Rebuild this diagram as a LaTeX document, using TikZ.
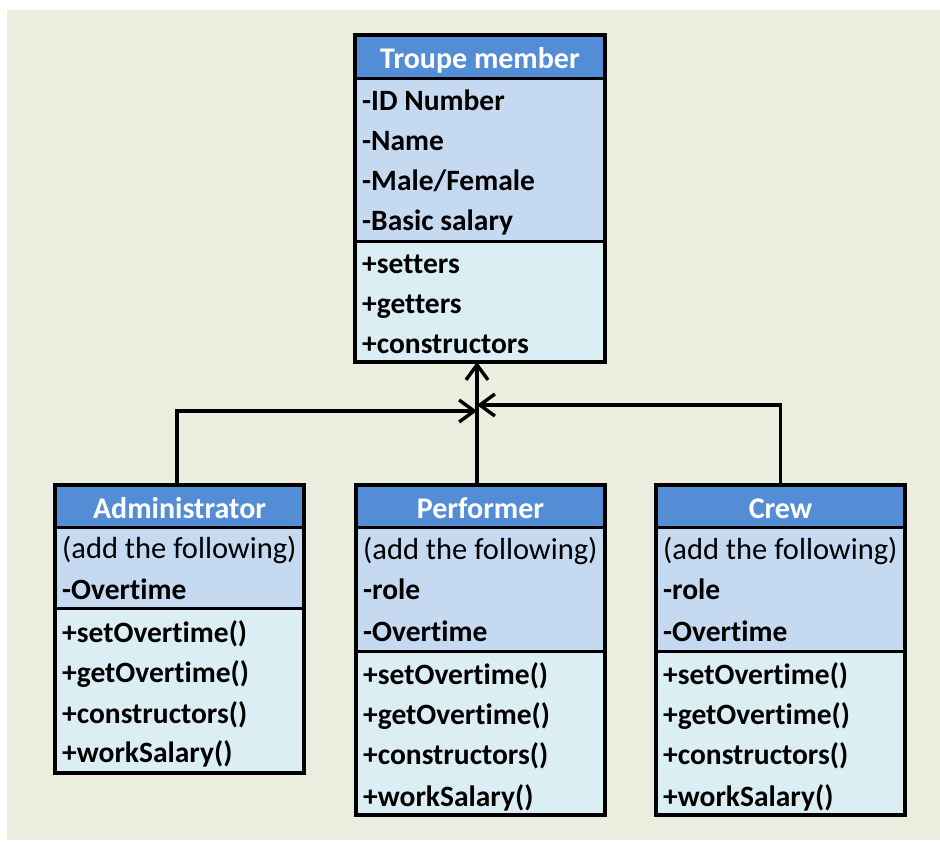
\documentclass[tikz,border=0pt]{standalone}
\usepackage{fontspec}
\setmainfont{Carlito}[Ligatures=NoCommon]
\usetikzlibrary{arrows.meta}
\definecolor{bgc}{RGB}{235,238,223}
\definecolor{hdrblue}{RGB}{83,141,213}
\definecolor{attrblue}{RGB}{197,217,241}
\definecolor{methblue}{RGB}{218,238,243}
\tikzset{
  part/.style={draw=black, line width=3pt, anchor=north west, inner sep=0pt,
    outer sep=0pt, minimum width=#1},
  hdr/.style={part=#1, fill=hdrblue},
  attr/.style={part=#1, fill=attrblue},
  meth/.style={part=#1, fill=methblue},
  frame/.style={draw=black, line width=3.5pt},
  title/.style={text=white, inner sep=0pt, text height=0.68em, text depth=0.2em,
    yshift=-10pt, font=\fontsize{30}{36}\selectfont\bfseries},
  item/.style={anchor=west, inner sep=0pt, text height=0.68em, text depth=0.2em,
    yshift=-7.5pt, font=\fontsize{29.5}{35}\selectfont\bfseries},
  note/.style={item, font=\fontsize{30.5}{36}\selectfont},
  inh/.style={draw=black, line width=3.4pt,
    -{Straight Barb[length=15pt, width=22pt, line width=3.4pt]}},
}
\begin{document}
\begin{tikzpicture}[x=1pt, y=-1pt]
\useasboundingbox (0,0) rectangle (940,841);
\fill[bgc] (7,10) rectangle (940,840);

% Troupe member
\node[hdr=250pt, minimum height=43pt]  (tm-h) at (355,35) {};
\node[attr=250pt, minimum height=163pt] (tm-a) at (355,78) {};
\node[meth=250pt, minimum height=121pt] (tm-m) at (355,241) {};
\draw[frame] (tm-h.north west) rectangle (tm-m.south east);
\node[title] (tm-t) at (tm-h.center) {Troupe member};
\node[item] (tm-a1) at (362,101) {-ID Number};
\node[item] (tm-a2) at (362,141) {-Name};
\node[item] (tm-a3) at (362,181) {-Male/Female};
\node[item] (tm-a4) at (362,221) {-Basic salary};
\node[item] (tm-m1) at (362,264) {+setters};
\node[item] (tm-m2) at (362,304) {+getters};
\node[item] (tm-m3) at (362,344) {+constructors};

% Administrator
\node[hdr=249pt, minimum height=42pt]  (ad-h) at (55,485) {};
\node[attr=249pt, minimum height=81pt] (ad-a) at (55,527) {};
\node[meth=249pt, minimum height=165pt] (ad-m) at (55,608) {};
\draw[frame] (ad-h.north west) rectangle (ad-m.south east);
\node[title] (ad-t) at (ad-h.center) {Administrator};
\node[note] (ad-a1) at (62,549) {(add the following)};
\node[item] (ad-a2) at (62,590) {-Overtime};
\node[item] (ad-m1) at (62,633) {+setOvertime()};
\node[item] (ad-m2) at (62,673) {+getOvertime()};
\node[item] (ad-m3) at (62,714) {+constructors()};
\node[item] (ad-m4) at (62,753) {+workSalary()};

% Performer
\node[hdr=249pt, minimum height=42pt]  (pf-h) at (356,485) {};
\node[attr=249pt, minimum height=124pt] (pf-a) at (356,527) {};
\node[meth=249pt, minimum height=164pt] (pf-m) at (356,651) {};
\draw[frame] (pf-h.north west) rectangle (pf-m.south east);
\node[title] (pf-t) at (pf-h.center) {Performer};
\node[note] (pf-a1) at (363,550) {(add the following)};
\node[item] (pf-a2) at (363,590) {-role};
\node[item] (pf-a3) at (363,632) {-Overtime};
\node[item] (pf-m1) at (363,675) {+setOvertime()};
\node[item] (pf-m2) at (363,715) {+getOvertime()};
\node[item] (pf-m3) at (363,755) {+constructors()};
\node[item] (pf-m4) at (363,797) {+workSalary()};

% Crew
\node[hdr=249pt, minimum height=42pt]  (cr-h) at (656,485) {};
\node[attr=249pt, minimum height=124pt] (cr-a) at (656,527) {};
\node[meth=249pt, minimum height=164pt] (cr-m) at (656,651) {};
\draw[frame] (cr-h.north west) rectangle (cr-m.south east);
\node[title] (cr-t) at (cr-h.center) {Crew};
\node[note] (cr-a1) at (663,550) {(add the following)};
\node[item] (cr-a2) at (663,590) {-role};
\node[item] (cr-a3) at (663,632) {-Overtime};
\node[item] (cr-m1) at (663,675) {+setOvertime()};
\node[item] (cr-m2) at (663,715) {+getOvertime()};
\node[item] (cr-m3) at (663,755) {+constructors()};
\node[item] (cr-m4) at (663,797) {+workSalary()};

% Generalisation connectors meeting below the superclass
\coordinate (jl) at (477,411);
\coordinate (jr) at (477,405);
\draw[inh] ([xshift=-3.5pt]pf-h.north) -- ([xshift=-3pt]tm-m.south);
\draw[inh] ([xshift=-2.5pt]ad-h.north) |- (jl);
\draw[inh] (cr-h.north) |- (jr);
\end{tikzpicture}
\end{document}
